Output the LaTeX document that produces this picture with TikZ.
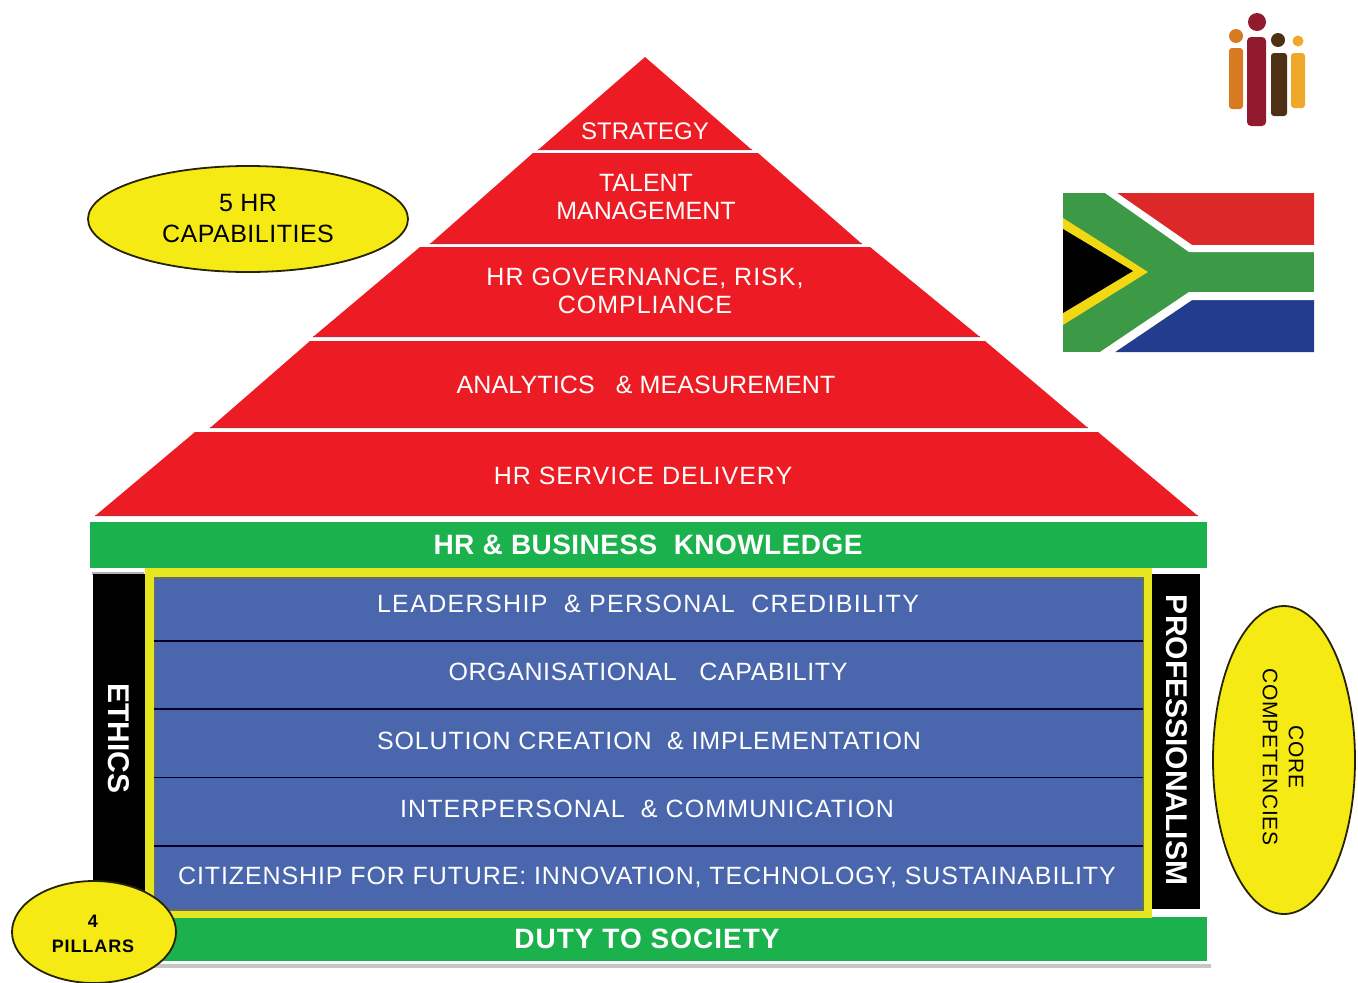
\documentclass[tikz,border=0pt]{standalone}
\usepackage{fontspec}
\setmainfont{Liberation Sans}
\usetikzlibrary{shapes.geometric}
\definecolor{pyrred}{HTML}{ED1C24}
\definecolor{pyredge}{HTML}{B8303A}
\definecolor{bargreen}{HTML}{1BB14C}
\definecolor{bandblue}{HTML}{4A66AC}
\definecolor{frameyel}{HTML}{E6E620}
\definecolor{frameedge}{HTML}{66705A}
\definecolor{ovalyel}{HTML}{F5EA14}
\definecolor{flagred}{HTML}{DC2828}
\definecolor{flaggreen}{HTML}{3C9A46}
\definecolor{flagblue}{HTML}{243C8E}
\definecolor{flagyel}{HTML}{F2D812}
\definecolor{logoor}{HTML}{D87A22}
\definecolor{logored}{HTML}{921A2E}
\definecolor{logobr}{HTML}{4E3014}
\definecolor{logogo}{HTML}{F0A828}
\newcommand{\lsp}[1]{\addfontfeature{LetterSpace=#1}}
\tikzset{
  pyrtext/.style={text=white,align=center,font=\fontsize{25}{28}\selectfont,inner sep=0pt},
  bluetext/.style={text=white,align=center,inner sep=0pt},
  bartext/.style={text=white,inner sep=0pt},
  pillartext/.style={text=white,font=\bfseries\fontsize{30}{32}\selectfont,inner sep=0pt,rotate=-90},
  oval/.style={ellipse,draw=black!85!ovalyel,line width=1.8pt,fill=ovalyel,inner sep=0pt,outer sep=0pt,minimum width=#1},
  ovaltext/.style={text=black,align=center,inner sep=0pt},
  bandedge/.style={pyredge,line width=1.2pt},
  blueline/.style={black!85!blue,line width=1.5pt},
}
\begin{document}
\begin{tikzpicture}[x=1pt,y=-1pt]
\useasboundingbox (0,0) rectangle (1358,983);
\fill[white] (0,0) rectangle (1358,983);
% pyramid bands with stepped edges
\fill[pyrred] (645,57) -- (752,150) -- (538,150) -- cycle;
\fill[pyrred] (533,153) -- (758,153) -- (862,244) -- (430,244) -- cycle;
\fill[pyrred] (420,247) -- (870,247) -- (980,337) -- (313,337) -- cycle;
\fill[pyrred] (310,341) -- (985,341) -- (1088,428) -- (210,428) -- cycle;
\fill[pyrred] (195,432) -- (1098,432) -- (1198,516) -- (95,516) -- cycle;
\draw[bandedge] (538,149.6) -- (752,149.6);
\draw[bandedge] (430,243.6) -- (862,243.6);
\draw[bandedge] (313,336.6) -- (980,336.6);
\draw[bandedge] (210,427.6) -- (1088,427.6);
\draw[bandedge] (95,515.6) -- (1198,515.6);
\node[pyrtext,font=\fontsize{24}{28}\selectfont] (strategy) at (645,131) {STRATEGY};
\node[pyrtext] (talent) at (646,197) {TALENT\\MANAGEMENT};
\node[pyrtext,font=\lsp{4}\fontsize{25}{28}\selectfont] (gov) at (645,291) {HR GOVERNANCE, RISK,\\COMPLIANCE};
\node[pyrtext,font=\lsp{0.5}\fontsize{25}{28}\selectfont] (analytics) at (646,385) {ANALYTICS\ \ \ \& MEASUREMENT};
\node[pyrtext,font=\lsp{4}\fontsize{25}{28}\selectfont] (service) at (643,476) {HR SERVICE DELIVERY};
% bars
\fill[gray!45] (100,964) rectangle (1211,968);
\fill[bargreen] (90,522) rectangle (1207,568);
\node[bartext,font=\bfseries\lsp{1.6}\fontsize{28}{30}\selectfont] (knowledge) at (648,545) {HR \& BUSINESS\ \ KNOWLEDGE};
\fill[bargreen] (150,917) rectangle (1207,961);
\node[bartext,font=\bfseries\lsp{3.6}\fontsize{28}{30}\selectfont] (duty) at (647,939) {DUTY TO SOCIETY};
% pillars
\fill[gray!60] (92,572) rectangle (144,575);
\fill[black] (93,574) rectangle (145,900);
\fill[black] (1152,574) rectangle (1200,909);
\node[pillartext] (ethics) at (119,738) {ETHICS};
\node[pillartext] (prof) at (1177,740) {PROFESSIONALISM};
% blue block
\fill[frameyel] (145,568) rectangle (1152,918);
\filldraw[fill=bandblue,draw=frameedge,line width=1.4pt] (154.5,578) rectangle (1143,910);
\draw[blueline] (154,641) -- (1143,641);
\draw[blueline] (154,709) -- (1143,709);
\draw[blueline] (154,777.5) -- (1143,777.5);
\draw[blueline] (154,846) -- (1143,846);
\node[bluetext,font=\lsp{5.4}\fontsize{25}{28}\selectfont] (lead) at (648,604) {LEADERSHIP\ \ \& PERSONAL\ \ CREDIBILITY};
\node[bluetext,font=\lsp{2.4}\fontsize{25}{28}\selectfont] (org) at (648,672) {ORGANISATIONAL\ \ \ CAPABILITY};
\node[bluetext,font=\lsp{3.3}\fontsize{25}{28}\selectfont] (sol) at (649,741) {SOLUTION CREATION\ \ \& IMPLEMENTATION};
\node[bluetext,font=\lsp{4.5}\fontsize{25}{28}\selectfont] (inter) at (647,809) {INTERPERSONAL\ \ \& COMMUNICATION};
\node[bluetext,font=\lsp{3.5}\fontsize{25}{28}\selectfont] (citizen) at (647,877) {CITIZENSHIP FOR FUTURE: INNOVATION, TECHNOLOGY, SUSTAINABILITY};
% ovals
\node[oval=320pt,minimum height=106pt] (hrcap) at (248,219) {};
\node[ovaltext,font=\lsp{2}\fontsize{25}{31}\selectfont] (hrcaptext) at (248,219) {5 HR\\CAPABILITIES};
\node[oval=164pt,minimum height=102pt] (pillars) at (94,932) {};
\node[ovaltext,font=\bfseries\lsp{5}\fontsize{18}{25}\selectfont] (pillarstext) at (93,934) {4\\PILLARS};
\node[oval=142pt,minimum height=308pt] (core) at (1284,760) {};
\node[ovaltext,rotate=-90,font=\lsp{4}\fontsize{21}{26}\selectfont] (coretext) at (1283,757) {CORE\\COMPETENCIES};
% flag
\fill[flaggreen] (1063,193) rectangle (1314,352);
\fill[flagred] (1117,193) -- (1314,193) -- (1314,245) -- (1192,245) -- cycle;
\fill[flagblue] (1115,352) -- (1314,352) -- (1314,300) -- (1192,300) -- cycle;
\fill[white] (1105,193) -- (1117,193) -- (1192,245) -- (1314,245) -- (1314,252) -- (1189,252) -- cycle;
\fill[white] (1100,352) -- (1115,352) -- (1192,300) -- (1314,300) -- (1314,292) -- (1189,292) -- cycle;
\fill[flagyel] (1063,218) -- (1148,272) -- (1063,325) -- cycle;
\fill[black] (1063,229) -- (1133,271) -- (1063,313) -- cycle;
% logo
\fill[logoor] (1236,36) circle (7);
\fill[logoor,rounded corners=3pt] (1229,48) rectangle (1243,109);
\fill[logored] (1257,22) circle (9);
\fill[logored,rounded corners=4pt] (1247,37) rectangle (1266,126);
\fill[logobr] (1278,40) circle (7);
\fill[logobr,rounded corners=3pt] (1271,53) rectangle (1287,116);
\fill[logogo] (1298,41) circle (5.5);
\fill[logogo,rounded corners=3pt] (1291,53) rectangle (1305,108);
\end{tikzpicture}
\end{document}
